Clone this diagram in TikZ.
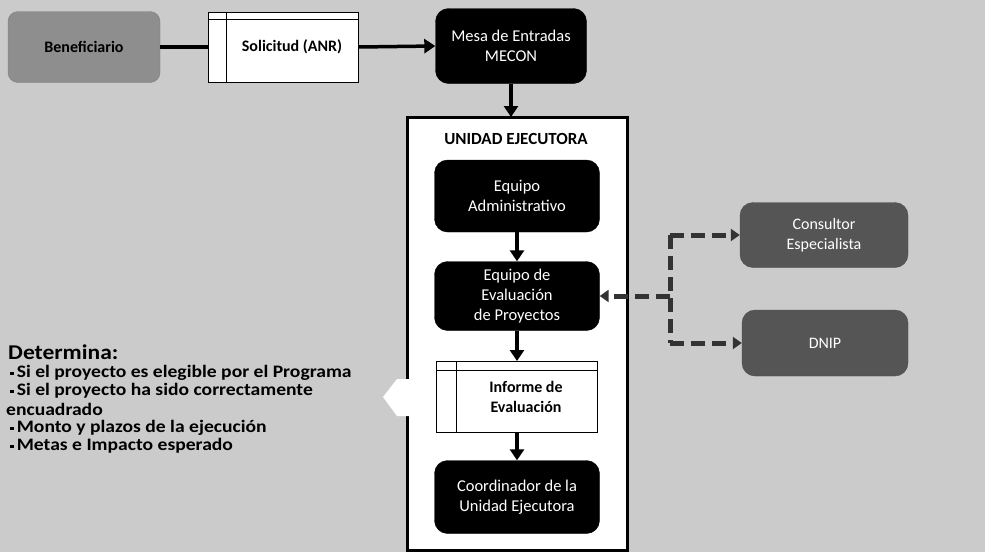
\documentclass[tikz,border=0pt]{standalone}
\usepackage{fontspec}
\setmainfont{Carlito}
\usetikzlibrary{arrows.meta}
\definecolor{bg}{HTML}{CBCBCB}
\definecolor{benef}{HTML}{8E8E8E}
\definecolor{ext}{HTML}{555555}
\newcommand{\mybsq}{\raisebox{3pt}{\rule{3pt}{3pt}}\,}
\newcommand{\mywide}[1]{\scalebox{1.12}[1]{#1}}
\tikzset{
  blackbox/.style={draw=black, fill=black, rounded corners=13pt, text=white, align=center,
    font=\fontsize{16.5}{20}\selectfont, inner sep=0pt},
  graybox/.style={draw=black!70, fill=ext, rounded corners=13pt, text=white, align=center,
    font=\fontsize{16}{20}\selectfont, inner sep=0pt},
  docbox/.style={draw=black, line width=1pt, fill=white, align=center,
    font=\bfseries\fontsize{16}{20}\selectfont, inner sep=0pt},
  flow/.style={line width=3.5pt, -{Triangle[length=11pt,width=14pt]}},
  dflow/.style={line width=5pt, black!80, dash pattern=on 14pt off 7pt},
  dtip/.style={-{Triangle[length=9pt,width=12pt]}},
  bul/.style={font=\bfseries\fontsize{17.5}{18}\selectfont, anchor=west, inner sep=0pt}
}
\begin{document}
\begin{tikzpicture}[x=1pt,y=-1pt]
\fill[bg] (0,0) rectangle (985,552);
\useasboundingbox (0,0) rectangle (985,552);

% top row
\node[draw=black!50, fill=benef, rounded corners=10pt, minimum width=152pt, minimum height=71pt,
  font=\bfseries\fontsize{16}{20}\selectfont, inner sep=0pt] (ben) at (84,47) {Beneficiario};
\node[docbox, minimum width=150pt, minimum height=70pt] (sol) at (283,47) {\hspace*{18pt}Solicitud (ANR)};
\draw ([xshift=19pt]sol.north west) -- ([xshift=19pt]sol.south west);
\draw ([yshift=-8pt]sol.north west) -- ([yshift=-8pt]sol.north east);
\node[blackbox, minimum width=151pt, minimum height=75pt] (mesa) at (511,46) {Mesa de Entradas\\MECON};

\draw[line width=4pt] (ben.east) -- (sol.west);
\draw[flow] (sol.east) -- (mesa.west);

% Unidad Ejecutora frame
\coordinate (ut) at (511,117);
\draw[line width=3pt] (407,380) -- (407,117) -- (627,117) -- (627,550) -- (407,550) -- (407,415);
\fill[white] (408.5,118.5) rectangle (625.5,548.5);
\fill[white] (383,397) -- (397,379) -- (409,379) -- (409,416) -- (397,416) -- cycle;
\node[font=\bfseries\fontsize{17}{20}\selectfont, inner sep=0pt] (ue) at (516,139) {UNIDAD EJECUTORA};
\draw[flow] (mesa.south) -- (ut);

\node[blackbox, minimum width=165pt, minimum height=72pt] (adm) at (517,196) {Equipo\\Administrativo};
\node[blackbox, minimum width=165pt, minimum height=69pt] (eval) at (517,296) {Equipo de\\Evaluación\\de Proyectos};
\node[docbox, minimum width=161pt, minimum height=71pt] (inf) at (517,397) {\hspace*{18pt}Informe de\\\hspace*{18pt}Evaluación};
\draw ([xshift=20pt]inf.north west) -- ([xshift=20pt]inf.south west);
\draw ([yshift=-9pt]inf.north west) -- ([yshift=-9pt]inf.north east);
\node[blackbox, minimum width=165pt, minimum height=73pt] (coord) at (517,497) {Coordinador de la\\Unidad Ejecutora};

\draw[flow] (adm.south) -- (eval.north);
\draw[flow] (eval.south) -- (inf.north);
\draw[flow] (inf.south) -- (coord.north);

% external
\node[graybox, minimum width=168pt, minimum height=65pt] (cons) at (824,235) {Consultor\\Especialista};
\node[graybox, minimum width=166pt, minimum height=66pt] (dnip) at (825,343) {DNIP};
\coordinate (j1) at (670,235);
\coordinate (j2) at (670,296);
\coordinate (j3) at (670,343);
\draw[dflow] (j1) -- (j3);
\draw[dflow, dtip] (j2) -- (eval.east);
\draw[dflow, dtip] (j1) -- (cons.west);
\draw[dflow, dtip] (j3) -- (dnip.west);

% Determina
\node[font=\bfseries\fontsize{21}{22}\selectfont, anchor=west, inner sep=0pt] (det) at (8,352) {\mywide{Determina:}};
\node[bul] (b1) at (10,373) {\mywide{\mybsq Si el proyecto es elegible por el Programa}};
\node[bul] (b2) at (10,391) {\mywide{\mybsq Si el proyecto ha sido correctamente}};
\node[bul] (b3) at (6,409) {\mywide{encuadrado}};
\node[bul] (b4) at (10,428) {\mywide{\mybsq Monto y plazos de la ejecución}};
\node[bul] (b5) at (10,446) {\mywide{\mybsq Metas e Impacto esperado}};
\end{tikzpicture}
\end{document}
